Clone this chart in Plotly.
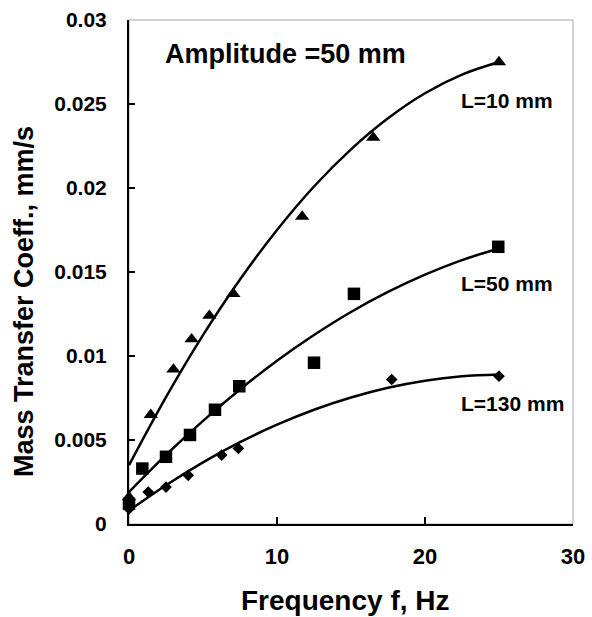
import plotly.graph_objects as go

# ---- data ----
freq_L10 = [0, 1.47, 3.0, 4.23, 5.43, 7.05, 11.7, 16.5, 25.0]
k_L10 = [0.0016, 0.0065, 0.0092, 0.0110, 0.0124, 0.0137, 0.0183, 0.0230, 0.0275]

freq_L50 = [0, 0.9, 2.5, 4.12, 5.81, 7.45, 12.5, 15.2, 24.95]
k_L50 = [0.0012, 0.0033, 0.0040, 0.0053, 0.0068, 0.0082, 0.0096, 0.0137, 0.0165]

freq_L130 = [0, 1.3, 2.5, 4.0, 6.26, 7.39, 17.75, 25.0]
k_L130 = [0.0009, 0.0019, 0.0022, 0.0029, 0.0041, 0.0045, 0.0086, 0.0088]

# fitted trend curves
fit_x = [0, 2.5, 5, 7.5, 10, 12.5, 15, 17.5, 20, 22.5, 25]
fit_L10 = [0.0035, 0.00755, 0.01124, 0.01455, 0.0175, 0.02009, 0.0223, 0.02415, 0.02564, 0.02675, 0.0275]
fit_L50 = [0.0019, 0.00411, 0.00614, 0.00801, 0.00972, 0.01125, 0.01262, 0.01381, 0.01484, 0.01571, 0.0164]
fit_L130 = [0.0008, 0.00231, 0.00367, 0.00487, 0.00591, 0.0068, 0.00753, 0.00811, 0.00853, 0.00879, 0.0089]

x_ticks = [0, 10, 20, 30]
y_ticks = [0, 0.005, 0.01, 0.015, 0.02, 0.025, 0.03]
y_ticktext = ["0", "0.005", "0.01", "0.015", "0.02", "0.025", "0.03"]

FONT = "Arial, Liberation Sans, sans-serif"

fig = go.Figure()

for fy in (fit_L10, fit_L50, fit_L130):
    fig.add_trace(go.Scatter(x=fit_x, y=fy, mode="lines", line=dict(color="black", width=2.5, shape="spline"),
                             showlegend=False, hoverinfo="skip"))

fig.add_trace(go.Scatter(x=freq_L10, y=k_L10, mode="markers", cliponaxis=False,
                         marker=dict(symbol="triangle-up", size=12.5, color="black"), showlegend=False))
fig.add_trace(go.Scatter(x=freq_L50, y=k_L50, mode="markers", cliponaxis=False,
                         marker=dict(symbol="square", size=12.5, color="black"), showlegend=False))
fig.add_trace(go.Scatter(x=freq_L130, y=k_L130, mode="markers", cliponaxis=False,
                         marker=dict(symbol="diamond", size=9, color="black"), showlegend=False))

fig.add_shape(type="rect", xref="paper", yref="paper", x0=0, x1=1, y0=0, y1=1,
              line=dict(color="#a6a6a6", width=1), layer="below")

ann_font = dict(family=FONT, size=21, color="black", weight="bold")
fig.add_annotation(x=2.3, y=0.02795, xref="x", yref="y", text="Amplitude =50 mm", showarrow=False,
                   xanchor="left", yanchor="middle", font=dict(family=FONT, size=27, color="black", weight="bold"))
fig.add_annotation(x=22.3, y=0.0252, xref="x", yref="y", text="L=10 mm", showarrow=False,
                   xanchor="left", yanchor="middle", font=ann_font)
fig.add_annotation(x=22.3, y=0.0143, xref="x", yref="y", text="L=50 mm", showarrow=False,
                   xanchor="left", yanchor="middle", font=ann_font)
fig.add_annotation(x=22.3, y=0.0072, xref="x", yref="y", text="L=130 mm", showarrow=False,
                   xanchor="left", yanchor="middle", font=ann_font)

W, H = 592, 617
L, R, T, B = 129, 19, 20, 93
PW, PH = W - L - R, H - T - B

# axis titles (positions given in pixels, converted to paper coordinates)
fig.add_annotation(x=(345 - L) / PW, y=(H - B - 600) / PH, xref="paper", yref="paper",
                   text="Frequency f, Hz", showarrow=False, xanchor="center", yanchor="middle",
                   font=dict(family=FONT, size=28, color="black", weight="bold"))
fig.add_annotation(x=(24 - L) / PW, y=(H - B - 302) / PH, xref="paper", yref="paper",
                   text="Mass Transfer Coeff., mm/s", showarrow=False, textangle=-90,
                   xanchor="center", yanchor="middle",
                   font=dict(family=FONT, size=27, color="black", weight="bold"))

fig.update_xaxes(range=[0, 30], tickvals=x_ticks, ticks="inside", ticklen=7, tickwidth=1.5, tickcolor="black",
                 showline=True, linecolor="black", linewidth=2, showgrid=False, zeroline=False,
                 tickfont=dict(family=FONT, size=22, color="black", weight="bold"), ticklabelstandoff=12)
fig.update_yaxes(range=[0, 0.03], tickvals=y_ticks, ticktext=y_ticktext, ticks="inside", ticklen=6, tickwidth=1.5,
                 tickcolor="black", showline=True, linecolor="black", linewidth=2, showgrid=False, zeroline=False,
                 tickfont=dict(family=FONT, size=21, color="black", weight="bold"), ticklabelstandoff=16)

fig.update_layout(width=W, height=H, margin=dict(l=L, r=R, t=T, b=B, autoexpand=False),
                  paper_bgcolor="white", plot_bgcolor="white", font=dict(family=FONT))

fig.write_html("out.html", config={"displayModeBar": False},
               post_script="document.body.style.margin='0';")
